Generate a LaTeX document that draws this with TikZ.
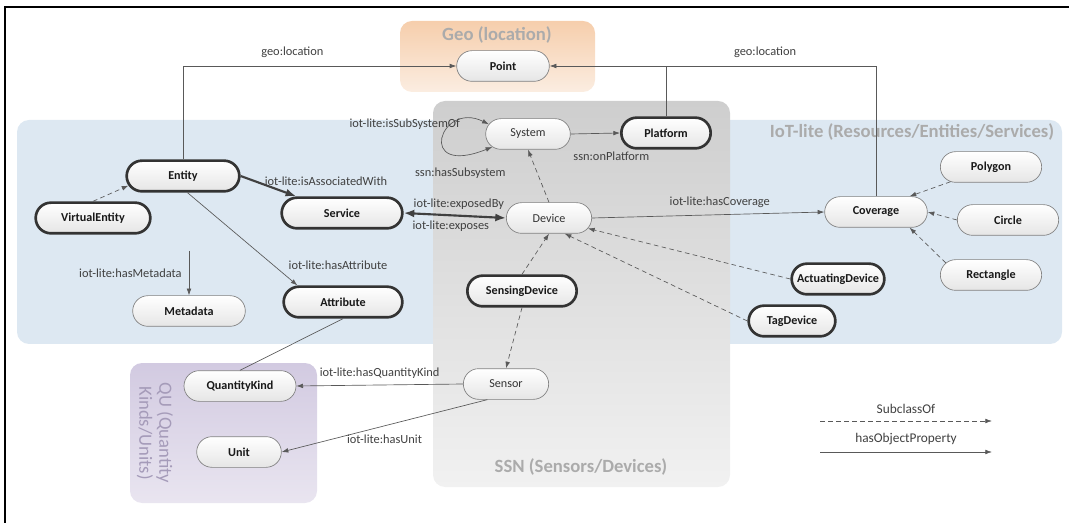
\documentclass[tikz,border=0pt]{standalone}
\usepackage{fontspec}
\setmainfont{Carlito}
\usetikzlibrary{shapes.misc,arrows.meta}
\definecolor{iotblue}{RGB}{221,232,242}
\definecolor{geotop}{RGB}{246,206,172}
\definecolor{geobot}{RGB}{251,237,225}
\definecolor{ssntop}{RGB}{206,206,206}
\definecolor{ssnbot}{RGB}{241,241,241}
\definecolor{qutop}{RGB}{210,202,225}
\definecolor{qubot}{RGB}{233,229,240}
\definecolor{qutext}{RGB}{165,155,185}
\begin{document}
\begin{tikzpicture}
  [x=0.75pt,y=-0.75pt,
   every node/.style={font=\fontsize{9.3}{11}\selectfont,text=black!75},
   cls/.style={rounded rectangle,draw=black!50,line width=0.5pt,top color=white,bottom color=black!10,
     minimum height=23pt,inner sep=2pt,font=\fontsize{9.1}{11}\selectfont\bfseries,text=black!90},
   core/.style={cls,draw=black!80,line width=2pt},
   inst/.style={cls,font=\fontsize{9.1}{11}\selectfont,text=black!80},
   grouptitle/.style={font=\fontsize{14}{17}\selectfont\bfseries,text=black!33},
   legendtext/.style={font=\fontsize{10}{12}\selectfont},
   rel/.style={draw=black!65,line width=0.5pt,-{Latex[length=5pt,width=3.5pt]}},
   isa/.style={rel,dash pattern=on 3.5pt off 2.5pt},
   link/.style={draw=black!65,line width=0.5pt},
   bigrel/.style={draw=black!75,line width=1.6pt,{Latex[length=8pt,width=6pt]}-{Latex[length=8pt,width=6pt]}}]
  \useasboundingbox (0,0) rectangle (1069,523);
  \fill[iotblue,rounded corners=9pt] (17,120) rectangle (1062,344);
  \shade[top color=geotop,bottom color=geobot,rounded corners=9pt] (400,21) rectangle (595,92);
  \shade[top color=ssntop,bottom color=ssnbot,rounded corners=9pt] (433,101) rectangle (730,487);
  \shade[top color=qutop,bottom color=qubot,rounded corners=9pt] (130,363) rectangle (317,503);
  \draw[line width=0.9pt] (5,523) -- (5,7) -- (1069,7);
  \node[grouptitle] (geotitle) at (497,35) {Geo (location)};
  \node[grouptitle] (iottitle) at (912,132) {IoT-lite (Resources/Entities/Services)};
  \node[grouptitle] (ssntitle) at (581,467) {SSN (Sensors/Devices)};
  \node[grouptitle,font=\fontsize{14}{15}\selectfont,text=qutext,rotate=-90,align=center] (qutitle) at (155,433) {QU (Quantity\\Kinds/Units)};

  \node[cls,minimum width=73.5pt] (point) at (503,66) {Point};
  \node[core,minimum width=71pt] (platform) at (666,133) {Platform};
  \node[inst,minimum width=67.5pt] (system) at (528,134) {System};
  \node[core,minimum width=88.5pt] (entity) at (183,176) {Entity};
  \node[core,minimum width=90pt] (virtual) at (93,218) {VirtualEntity};
  \node[core,minimum width=94.5pt] (service) at (342,213) {Service};
  \node[inst,minimum width=68pt] (device) at (549,218) {Device};
  \node[cls,minimum width=88.5pt] (metadata) at (189,311) {Metadata};
  \node[core,minimum width=93pt] (attribute) at (343,302) {Attribute};
  \node[core,minimum width=86pt] (sensing) at (522,291) {SensingDevice};
  \node[cls,minimum width=81pt] (coverage) at (876,212) {Coverage};
  \node[cls,minimum width=80pt] (polygon) at (991,167) {Polygon};
  \node[cls,minimum width=80pt] (circ) at (1008,220) {Circle};
  \node[cls,minimum width=80pt] (rect) at (991,275) {Rectangle};
  \node[core,minimum width=73.5pt] (actuating) at (838,279) {ActuatingDevice};
  \node[core,minimum width=69pt] (tag) at (792,321) {TagDevice};
  \node[cls,minimum width=88pt] (quantity) at (240,386) {QuantityKind};
  \node[cls,minimum width=67.5pt] (unit) at (239,452) {Unit};
  \node[inst,minimum width=68pt] (sensor) at (506,384) {Sensor};

  \draw[rel] (entity.north) |- (point.west) node[pos=0.7,above=3pt] (geolblA) {geo:location};
  \draw[link] (platform.north) -- (platform.north |- point.east);
  \draw[rel] (coverage.north) |- (point.east) node[pos=0.67,above=3pt] (geolblB) {geo:location};
  \draw[rel] (system.east) -- (platform.west) node[midway,below=10pt,xshift=12pt] (onplbl) {ssn:onPlatform};
  \draw[rel,{Latex[length=5pt,width=3.5pt]}-{Latex[length=5pt,width=3.5pt]}] (system.166) .. controls (440,100) and (415,178) .. (system.200)
    node[at start,anchor=east,xshift=-18pt] (subsyslbl) {iot-lite:isSubSystemOf}
    node[at end,anchor=north,xshift=-24pt,yshift=-12pt] (hassublbl) {ssn:hasSubsystem};
  \draw[isa] (device.north) -- (system.south);
  \draw[bigrel] (service.east) -- (device.west)
    node[midway,above=0pt,xshift=3pt] (exbylbl) {iot-lite:exposedBy}
    node[midway,below=0pt,xshift=-3pt] (exlbl) {iot-lite:exposes};
  \draw[rel] (device.east) -- (coverage.west) node[pos=0.55,above=2pt] (covlbl) {iot-lite:hasCoverage};
  \draw[rel,draw=black!75,line width=1.6pt,-{Latex[length=8pt,width=6pt]}] (entity.east) -- (service.160)
    node[at start,anchor=west,xshift=14pt,yshift=-4pt] (asslbl) {iot-lite:isAssociatedWith};
  \draw[isa] (virtual.north) -- (entity.190);
  \draw[rel] (entity.-75) -- (attribute.160) node[pos=0.78,anchor=west,xshift=8pt] (attlbl) {iot-lite:hasAttribute};
  \coordinate (metasrc) at (189,251);
  \draw[rel] (metasrc) -- (metadata.north) node[midway,left=2pt] (metalbl) {iot-lite:hasMetadata};
  \draw[link] (attribute.south) -- (quantity.north);
  \draw[rel] (sensor.west) -- (quantity.east) node[midway,above=1pt] (qklbl) {iot-lite:hasQuantityKind};
  \draw[rel] (sensor.220) -- (unit.east) node[midway,below=3pt] (unitlbl) {iot-lite:hasUnit};
  \draw[isa] (sensing.north) -- (device.south);
  \draw[isa] (sensing.south) -- (sensor.north);
  \draw[isa] (actuating.west) -- (device.-15);
  \draw[isa] (tag.west) -- (device.-45);
  \draw[isa] (polygon.200) -- (coverage.25);
  \draw[isa] (circ.west) -- (coverage.east);
  \draw[isa] (rect.165) -- (coverage.-25);

  \coordinate (isaA) at (820,421);
  \coordinate (isaB) at (992,421);
  \coordinate (relA) at (820,452);
  \coordinate (relB) at (992,452);
  \draw[isa] (isaA) -- (isaB) node[midway,above=2pt,legendtext] (isalbl) {SubclassOf};
  \draw[rel] (relA) -- (relB) node[midway,above=2pt,legendtext] (rellbl) {hasObjectProperty};
\end{tikzpicture}
\end{document}
